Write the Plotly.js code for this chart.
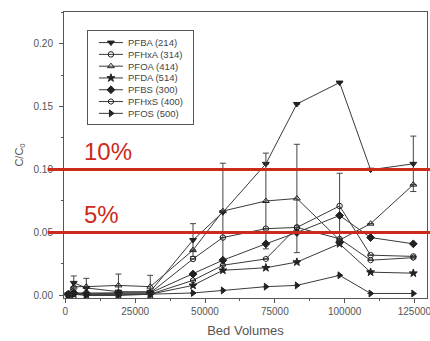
<!DOCTYPE html>
<html><head><meta charset="utf-8">
<script src="https://cdn.plot.ly/plotly-3.0.1.min.js"></script>
<style>html,body{margin:0;padding:0;background:#fff;}#chart{width:430px;height:341px;}</style>
</head><body><div id="chart"></div>
<script>
var bedVolumes = [1000, 3000, 7500, 19000, 30400, 45700, 56400, 71800, 82900, 98200, 109300, 124600];
var PFBA  = [0.001, 0.010, 0.006, 0.003, 0.003, 0.044, 0.066, 0.1045, 0.152, 0.169, 0.0998, 0.1045];
var PFHxA = [0.001, 0.002, 0.002, 0.002, 0.002, 0.029, 0.046, 0.053, 0.054, 0.071, 0.032, 0.031];
var PFOA  = [0.001, 0.007, 0.007, 0.008, 0.007, 0.036, 0.067, 0.075, 0.077, 0.044, 0.057, 0.088];
var PFDA  = [0.000, 0.001, 0.001, 0.001, 0.001, 0.008, 0.020, 0.022, 0.0265, 0.041, 0.0185, 0.0177];
var PFBS  = [0.001, 0.002, 0.001, 0.002, 0.002, 0.017, 0.028, 0.041, 0.050, 0.0635, 0.046, 0.041];
var PFHxS = [0.000, 0.001, 0.001, 0.001, 0.001, 0.012, 0.024, 0.029, 0.054, 0.045, 0.028, 0.030];
var PFOS  = [0.000, 0.001, 0.000, 0.000, 0.001, 0.002, 0.004, 0.007, 0.008, 0.016, 0.0016, 0.0016];
var errPFBA  = [0, 0.0055, 0, 0, 0, 0.013, 0.039, 0, 0, 0, 0, 0.022];
var errPFOA  = [0, 0, 0.0066, 0.009, 0.009, 0, 0, 0.038, 0.043, 0, 0, 0];
var errPFHxA = [0, 0, 0, 0, 0, 0, 0, 0, 0, 0.026, 0, 0];
var zeros = [0,0,0,0,0,0,0,0,0,0,0,0];
var seriesNames = ['PFBA (214)', 'PFHxA (314)', 'PFOA (414)', 'PFDA (514)', 'PFBS (300)', 'PFHxS (400)', 'PFOS (500)'];
var seriesData = [PFBA, PFHxA, PFOA, PFDA, PFBS, PFHxS, PFOS];
var seriesErr = [errPFBA, errPFHxA, errPFOA, zeros, zeros, zeros, zeros];
var symbols = ['triangle-down', 'circle-open', 'triangle-up-open', 'star', 'diamond', 'hexagon-open', 'triangle-right'];
var sizes = [6, 5.5, 6, 6, 6, 5.5, 6];
var xTickVals = [0, 25000, 50000, 75000, 100000, 125000];
var xTickText = ['0', '25000', '50000', '75000', '100000', '125000'];
var yTickVals = [0, 0.05, 0.10, 0.15, 0.20];
var yTickText = ['0.00', '0.05', '0.10', '0.15', '0.20'];

var lineStyle = {color: '#3a3a3a', width: 1};
function mk(i){ return {symbol: symbols[i], size: sizes[i], color: '#222', line: {color: '#222', width: 1}}; }

var traces = seriesData.map(function(d, i){
  return {
    x: bedVolumes, y: d, name: seriesNames[i], type: 'scatter', mode: 'lines+markers',
    line: lineStyle, marker: mk(i), showlegend: false,
    error_y: {type: 'data', array: seriesErr[i], visible: true, color: '#444', thickness: 1, width: 3}
  };
});

// inset legend box drawn on its own small axes (units = pixels inside the box)
var boxW = 105, boxH = 93, rowTop = 12, rowGap = 11.8;
var annotations = [];
seriesNames.forEach(function(n, i){
  var yy = boxH - rowTop - rowGap * i;
  traces.push({x: [11, 35], y: [yy, yy], xaxis: 'x2', yaxis: 'y2', type: 'scatter', mode: 'lines',
    line: lineStyle, showlegend: false, hoverinfo: 'skip'});
  traces.push({x: [23], y: [yy], xaxis: 'x2', yaxis: 'y2', type: 'scatter', mode: 'markers',
    marker: mk(i), showlegend: false, hoverinfo: 'skip'});
  annotations.push({text: n, xref: 'x2', yref: 'y2', x: 38, y: yy, xanchor: 'left', yanchor: 'middle',
    showarrow: false, font: {size: 9.5, color: '#444'}});
});

annotations.push(
  {text: '10%', xref: 'paper', yref: 'y', x: 0.05, y: 0.10, xanchor: 'left', yanchor: 'bottom', showarrow: false, yshift: 2,
   font: {size: 24, color: '#cc2a1a', family: 'Liberation Sans, Arial, sans-serif'}},
  {text: '5%', xref: 'paper', yref: 'y', x: 0.05, y: 0.05, xanchor: 'left', yanchor: 'bottom', showarrow: false, yshift: 2,
   font: {size: 24, color: '#cc2a1a', family: 'Liberation Sans, Arial, sans-serif'}}
);

var layout = {
  width: 430, height: 341,
  margin: {l: 64, r: 3, t: 12, b: 43},
  paper_bgcolor: '#fff', plot_bgcolor: '#fff',
  font: {family: 'Liberation Sans, Arial, sans-serif', color: '#555', size: 10},
  showlegend: false,
  xaxis: {domain: [0, 1], range: [-500, 129500], tickvals: xTickVals, ticktext: xTickText,
    ticklabeloverflow: 'allow',
    ticks: 'outside', ticklen: 4, tickcolor: '#555', showline: true, linecolor: '#555', linewidth: 1, mirror: true,
    showgrid: false, zeroline: false,
    minor: {ticks: 'outside', ticklen: 2, dtick: 12500, tick0: 0, tickcolor: '#555', showgrid: false},
    title: {text: 'Bed Volumes', font: {size: 13, color: '#555'}, standoff: 9}},
  yaxis: {domain: [0, 1], range: [-0.002, 0.225], tickvals: yTickVals, ticktext: yTickText,
    ticks: 'outside', ticklen: 4, tickcolor: '#555', showline: true, linecolor: '#555', linewidth: 1, mirror: true,
    showgrid: false, zeroline: false, ticklabelstandoff: 4,
    minor: {ticks: 'outside', ticklen: 2, dtick: 0.025, tick0: 0, tickcolor: '#555', showgrid: false},
    title: {text: 'C/C<sub>0</sub>', font: {size: 11, color: '#555'}, standoff: 7}},
  xaxis2: {domain: [0.066, 0.355], anchor: 'y2', range: [0, boxW], showline: true, mirror: true, linecolor: '#555', linewidth: 1,
    showticklabels: false, ticks: '', showgrid: false, zeroline: false},
  yaxis2: {domain: [0.61, 0.935], anchor: 'x2', range: [0, boxH], showline: true, mirror: true, linecolor: '#555', linewidth: 1,
    showticklabels: false, ticks: '', showgrid: false, zeroline: false},
  shapes: [
    {type: 'line', xref: 'paper', yref: 'y', x0: -0.045, x1: 1.01, y0: 0.10, y1: 0.10, line: {color: '#cc2a1a', width: 3}},
    {type: 'line', xref: 'paper', yref: 'y', x0: -0.045, x1: 1.01, y0: 0.05, y1: 0.05, line: {color: '#cc2a1a', width: 3}}
  ],
  annotations: annotations
};
Plotly.newPlot('chart', traces, layout, {displayModeBar: false, staticPlot: true});
</script></body></html>
